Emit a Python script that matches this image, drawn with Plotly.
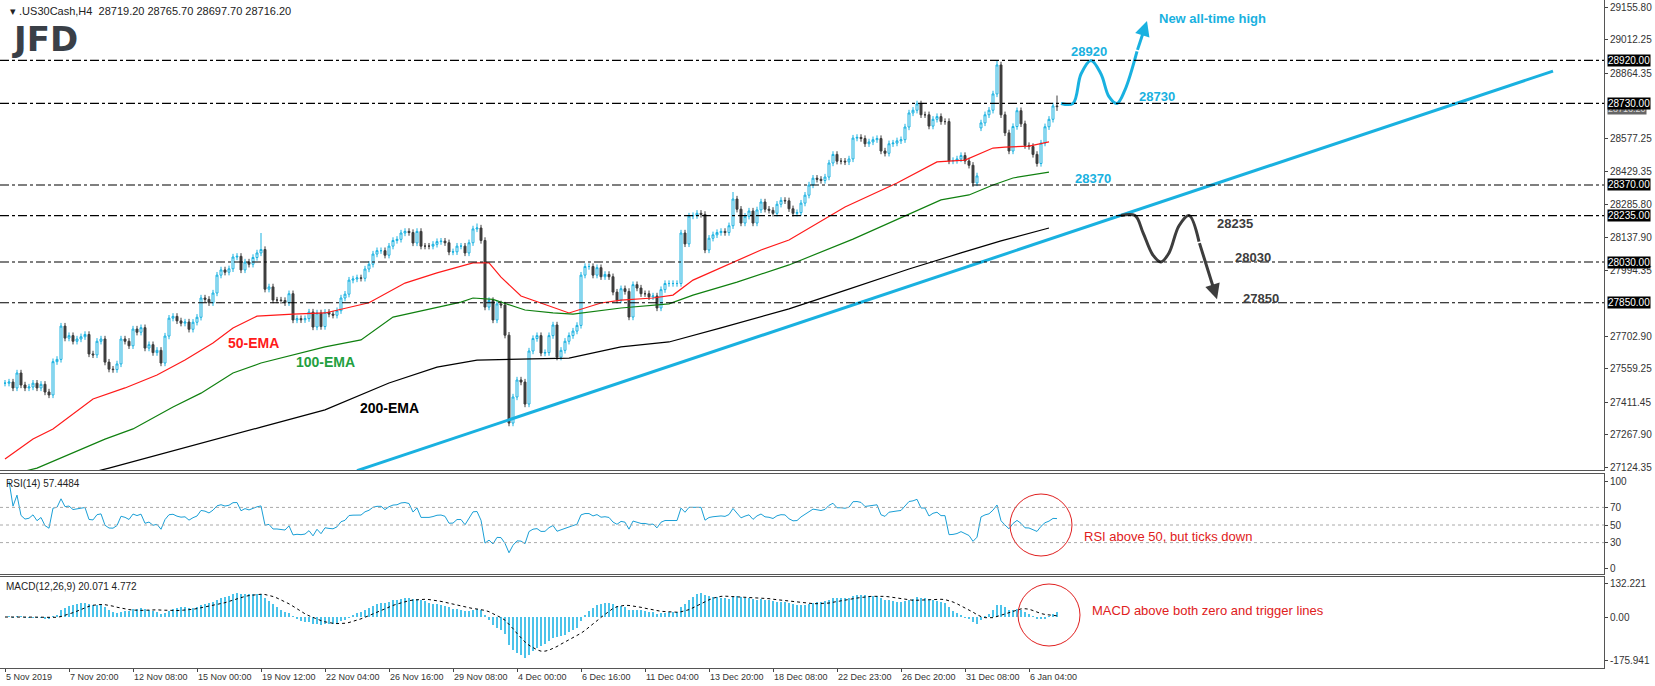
import numpy as np
import pandas as pd
import plotly.graph_objects as go

# ---------------- data ----------------
closes_a = [27495, 27500, 27474, 27540, 27487, 27474, 27478, 27495, 27474, 27490, 27456, 27443,
            27590, 27600, 27747, 27694, 27705, 27680, 27690, 27700, 27710,
            27624, 27620, 27680, 27690, 27588, 27557, 27555, 27580, 27690, 27680, 27660, 27734, 27720,
            27740, 27650, 27665, 27630, 27640, 27584, 27703, 27782, 27790, 27770, 27760, 27765, 27733,
            27764, 27786, 27871, 27865, 27850, 27893, 27972, 27995, 27985, 28000, 28052, 28055, 27995,
            28030, 28020, 28050, 28070, 28085, 27910, 27920, 27862]
closes_b = [27862, 27860, 27850, 27890, 27774, 27780, 27775, 27780, 27809, 27743,
            27805, 27745, 27808, 27800, 27795, 27815, 27871, 27888, 27950, 27955,
            27960, 27958, 27999, 28020, 28065, 28080, 28080, 28060, 28100, 28125,
            28130, 28158, 28165, 28160, 28114, 28165, 28100, 28100, 28100, 28108,
            28120, 28122, 28115, 28074, 28075, 28100, 28100, 28070, 28115, 28176,
            28180, 28125, 27831, 27860, 27774, 27845, 27840, 27707, 27319, 27434,
            27509, 27500, 27403, 27637, 27692]
closes_c = [27705, 27628, 27630, 27705, 27752, 27610, 27640, 27680, 27705, 27725,
            27750, 27972, 28010, 28010, 27972, 28005, 27965, 27975, 27965, 27897,
            27862, 27912, 27900, 27787, 27930, 27915, 27890, 27890, 27876, 27880,
            27827, 27908, 27935, 27935, 27935, 27935, 28158, 28110, 28233, 28235,
            28245, 28240, 28083, 28135, 28150, 28160, 28165, 28160, 28190, 28308,
            28263, 28202, 28232, 28255, 28202, 28260, 28295, 28263, 28258, 28245,
            28285, 28302, 28300, 28265, 28245]
closes_d = [28248, 28290, 28325, 28370, 28400, 28395, 28390, 28405, 28467, 28505,
            28475, 28475, 28472, 28485, 28577, 28580, 28575, 28552, 28560, 28570,
            28575, 28520, 28510, 28552, 28555, 28565, 28570, 28626, 28688, 28700,
            28728, 28680, 28680, 28630, 28660, 28672, 28650, 28650, 28476, 28478,
            28485, 28500, 28476, 28457, 28379, 28410, 28644, 28680, 28700, 28772,
            28900, 28680, 28600, 28520, 28628, 28698, 28640, 28544, 28540, 28505,
            28465, 28555, 28627, 28660, 28719, 28716]
open_overrides = {244: 28622, 263: 28719}
high_overrides = {64: 28158, 118: 28200, 182: 28339, 248: 28920, 263: 28765}
low_overrides = {126: 27305, 242: 28362, 263: 28697}

ema50_bars = [0, 7, 12, 22, 30, 38, 45, 52, 57, 63, 72, 80, 91, 100, 108, 117, 121, 124, 129, 141, 149,
              154, 162, 167, 172, 182, 189, 196, 210, 223, 233, 240, 247, 250, 256, 261]
ema50_vals = [27160, 27249, 27293, 27425, 27474, 27531, 27597, 27672, 27739, 27791, 27800, 27805, 27850,
              27937, 27982, 28026, 28026, 27963, 27880, 27805, 27849, 27862, 27871, 27884, 27950, 28030,
              28083, 28127, 28273, 28379, 28472, 28480, 28533, 28537, 28542, 28560]
ema100_bars = [0, 8, 25, 32, 42, 49, 57, 64, 80, 89, 97, 105, 114, 117, 122, 130, 137, 142, 154, 166,
               172, 183, 196, 212, 227, 234, 241, 247, 252, 261]
ema100_vals = [27085, 27120, 27248, 27293, 27390, 27451, 27540, 27584, 27655, 27686, 27787, 27818, 27853,
               27871, 27865, 27818, 27805, 27800, 27827, 27845, 27884, 27941, 28017, 28131, 28251, 28304,
               28326, 28370, 28401, 28427]
ema200_bars = [10, 26, 64, 80, 96, 108, 118, 129, 141, 154, 166, 179, 196, 210, 226, 239, 249, 261]
ema200_vals = [27050, 27120, 27301, 27377, 27496, 27566, 27597, 27602, 27606, 27655, 27677, 27739, 27823,
               27905, 27999, 28070, 28123, 28180]

trend_bars = [88, 387]
trend_vals = [27109, 28873]

levels = [28920, 28730, 28370, 28235, 28030, 27850]
price_ticks = [29155.80, 29012.25, 28864.35, 28577.25, 28429.35, 28285.80, 28137.90, 27994.35,
               27702.90, 27559.25, 27411.45, 27267.90, 27124.35]
date_labels = ["5 Nov 2019", "7 Nov 20:00", "12 Nov 08:00", "15 Nov 00:00", "19 Nov 12:00",
               "22 Nov 04:00", "26 Nov 16:00", "29 Nov 08:00", "4 Dec 00:00", "6 Dec 16:00",
               "11 Dec 04:00", "13 Dec 20:00", "18 Dec 08:00", "22 Dec 23:00", "26 Dec 20:00",
               "31 Dec 08:00", "6 Jan 04:00"]

# scenario paths (annotation drawings)
up_path_x = [264, 267, 269, 271.5, 274, 276, 278, 280, 283]
up_path_y = [28730, 28730, 28860, 28920, 28860, 28760, 28730, 28790, 28960]
dn_path_x = [279, 282.5, 284.5, 287, 289, 291, 293.5, 296, 298.5]
dn_path_y = [28235, 28235, 28160, 28060, 28030, 28070, 28190, 28235, 28120]

# ---------------- build OHLC ----------------
close = np.array(closes_a + closes_b + closes_c + closes_d, dtype=float)
n = len(close)
x = np.arange(n)
opn = np.concatenate([[close[0]], close[:-1]])
for k, v in open_overrides.items():
    opn[k] = v
pad = 14
high = np.maximum(opn, close) + pad
low = np.minimum(opn, close) - pad
for k, v in high_overrides.items():
    high[k] = v
for k, v in low_overrides.items():
    low[k] = v

s = pd.Series(close)
delta = s.diff()
gain = delta.clip(lower=0).ewm(alpha=1 / 14, adjust=False).mean()
loss = (-delta.clip(upper=0)).ewm(alpha=1 / 14, adjust=False).mean()
rsi = 100 - 100 / (1 + gain / loss)
macd = s.ewm(span=12, adjust=False).mean() - s.ewm(span=26, adjust=False).mean()
signal = macd.rolling(9, min_periods=1).mean()

BLUE = "#19b1e0"
DARK = "#3d3d3d"
FONT = "Liberation Sans"

fig = go.Figure()
fig.add_trace(go.Candlestick(x=x, open=opn, high=high, low=low, close=close,
                             increasing=dict(line=dict(color=BLUE, width=1), fillcolor="white"),
                             decreasing=dict(line=dict(color=DARK, width=1), fillcolor=DARK),
                             whiskerwidth=0, xaxis="x", yaxis="y"))
fig.add_trace(go.Scatter(x=ema50_bars, y=ema50_vals, mode="lines", line=dict(color="#ff1a1a", width=1.2),
                         xaxis="x", yaxis="y"))
fig.add_trace(go.Scatter(x=ema100_bars, y=ema100_vals, mode="lines", line=dict(color="#108010", width=1.2),
                         xaxis="x", yaxis="y"))
fig.add_trace(go.Scatter(x=ema200_bars, y=ema200_vals, mode="lines", line=dict(color="black", width=1.2),
                         xaxis="x", yaxis="y"))
fig.add_trace(go.Scatter(x=trend_bars, y=trend_vals, mode="lines", line=dict(color=BLUE, width=3),
                         xaxis="x", yaxis="y"))
fig.add_trace(go.Scatter(x=up_path_x, y=up_path_y, mode="lines", line=dict(color=BLUE, width=3, shape="spline"),
                         xaxis="x", yaxis="y"))
fig.add_trace(go.Scatter(x=dn_path_x, y=dn_path_y, mode="lines", line=dict(color=DARK, width=3, shape="spline"),
                         xaxis="x", yaxis="y"))
fig.add_trace(go.Scatter(x=x, y=rsi, mode="lines", line=dict(color="#1a9fd6", width=1), xaxis="x2", yaxis="y2"))
fig.add_trace(go.Bar(x=x, y=macd, marker=dict(color="#4cc3ea", line=dict(width=0)), width=0.35,
                     xaxis="x3", yaxis="y3"))
fig.add_trace(go.Scatter(x=x, y=signal, mode="lines", line=dict(color="black", width=1, dash="dot"),
                         xaxis="x3", yaxis="y3"))

XR = [-1.25, 399.75]
H_PLOT = 668.0
def dom(top_px, bot_px):
    return [(H_PLOT - bot_px) / H_PLOT, (H_PLOT - top_px) / H_PLOT]

TF = dict(family=FONT, size=10, color="#333")
axis_common = dict(showgrid=False, zeroline=False, showline=True, linecolor="#555", linewidth=1, mirror=True)
fig.update_layout(
    width=1655, height=686, margin=dict(l=0, r=51, t=0, b=18),
    paper_bgcolor="white", plot_bgcolor="white", showlegend=False, bargap=0,
    xaxis=dict(domain=[0, 1], range=XR, rangeslider=dict(visible=False), showticklabels=False,
               ticks="", **axis_common),
    yaxis=dict(domain=dom(0, 470), range=[27111.7, 29186.7], side="right", tickvals=price_ticks,
               ticktext=[f"{v:.2f}" for v in price_ticks], ticks="outside", ticklen=3, anchor="x",
               tickfont=TF, **axis_common),
    xaxis2=dict(domain=[0, 1], range=XR, matches="x", showticklabels=False, ticks="", anchor="y2",
                **axis_common),
    yaxis2=dict(domain=dom(474, 574), range=[-5.7, 108], side="right", tickvals=[100, 70, 50, 30, 0],
                ticks="outside", ticklen=3, anchor="x2", tickfont=TF, **axis_common),
    xaxis3=dict(domain=[0, 1], range=XR, matches="x", anchor="y3", tickvals=list(range(0, 257, 16)),
                ticktext=date_labels, ticks="outside", ticklen=3, ticklabelposition="outside right",
                tickangle=0, tickfont=dict(family=FONT, size=9, color="#333"), **axis_common),
    yaxis3=dict(domain=dom(577, 668), range=[-204, 160], side="right", tickvals=[132.221, 0, -175.941],
                ticktext=["132.221", "0.00", "-175.941"], ticks="outside", ticklen=3, anchor="x3",
                tickfont=TF, **axis_common),
)

shapes = []
for lv in levels:
    shapes.append(dict(type="line", xref="x domain", yref="y", x0=0, x1=1, y0=lv, y1=lv,
                       line=dict(color="black", width=1.2, dash="dashdot")))
for lv in [70, 50, 30]:
    shapes.append(dict(type="line", xref="x2 domain", yref="y2", x0=0, x1=1, y0=lv, y1=lv,
                       line=dict(color="#aaa", width=1, dash="dot")))
W = 1604.0
def px(xp):
    return xp / W
def py(yp):
    return (H_PLOT - yp) / H_PLOT
for cx, cy, r in [(1041, 525, 31), (1049, 615, 31)]:
    shapes.append(dict(type="circle", xref="paper", yref="paper", x0=px(cx - r), x1=px(cx + r),
                       y0=py(cy + r), y1=py(cy - r), line=dict(color="#e02020", width=1)))
fig.update_layout(shapes=shapes)

ann = []
ann.append(dict(xref="paper", yref="y", x=1.0, y=28706, xanchor="left", yanchor="middle", xshift=3,
                text="28716.20", showarrow=False, bgcolor="#666", font=dict(family=FONT, size=9, color="#ddd"),
                borderpad=0))
for lv in levels:
    ann.append(dict(xref="paper", yref="y", x=1.0, y=lv, xanchor="left", yanchor="middle", xshift=3,
                    text=f"{lv:.2f}", showarrow=False, bgcolor="black",
                    font=dict(family=FONT, size=10, color="white"), borderpad=0))
def lab(xv, yv, t, color, size=13, anchor="center"):
    ann.append(dict(xref="x", yref="y", x=xv, y=yv, text=f"<b>{t}</b>", showarrow=False, xanchor=anchor,
                    font=dict(family=FONT, size=size, color=color)))
lab(271, 28960, "28920", BLUE)
lab(288, 28760, "28730", BLUE)
lab(272, 28400, "28370", BLUE)
lab(288, 29105, "New all-time high", BLUE, anchor="left")
lab(307.5, 28200, "28235", DARK)
lab(312, 28052, "28030", DARK)
lab(314, 27870, "27850", DARK)
lab(62, 27672, "50-EMA", "#ff1a1a", 14)
lab(80, 27590, "100-EMA", "#22a040", 14)
lab(96, 27385, "200-EMA", "black", 14)
# arrow heads
ann.append(dict(xref="x", yref="y", axref="x", ayref="y", x=285.5, y=29094, ax=283, ay=28960, text="",
                showarrow=True, arrowhead=2, arrowsize=1, arrowwidth=3, arrowcolor=BLUE))
ann.append(dict(xref="x", yref="y", axref="x", ayref="y", x=303, y=27866, ax=298.5, ay=28120, text="",
                showarrow=True, arrowhead=2, arrowsize=1, arrowwidth=3, arrowcolor=DARK))
# headers
ann.append(dict(xref="paper", yref="paper", x=px(8), y=py(3), xanchor="left", yanchor="top",
                text="▾ .US30Cash,H4  28719.20 28765.70 28697.70 28716.20", showarrow=False,
                font=dict(family=FONT, size=11, color="#222")))
ann.append(dict(xref="paper", yref="paper", x=px(10), y=py(17), xanchor="left", yanchor="top",
                text="<b>JFD</b>", showarrow=False, font=dict(family="DejaVu Sans", size=34, color="#3a3f47")))
ann.append(dict(xref="paper", yref="paper", x=px(4), y=py(476), xanchor="left", yanchor="top",
                text="RSI(14) 57.4484", showarrow=False, font=dict(family=FONT, size=10, color="#222")))
ann.append(dict(xref="paper", yref="paper", x=px(4), y=py(579), xanchor="left", yanchor="top",
                text="MACD(12,26,9) 20.071 4.772", showarrow=False, font=dict(family=FONT, size=10, color="#222")))
ann.append(dict(xref="paper", yref="paper", x=px(1082), y=py(536), xanchor="left", yanchor="middle",
                text="RSI above 50, but ticks down", showarrow=False, font=dict(family=FONT, size=13, color="#e02020")))
ann.append(dict(xref="paper", yref="paper", x=px(1090), y=py(610), xanchor="left", yanchor="middle",
                text="MACD above both zero and trigger lines", showarrow=False,
                font=dict(family=FONT, size=13, color="#e02020")))
fig.update_layout(annotations=ann)

fig.write_html("out.html", config={"displayModeBar": False},
               post_script="document.body.style.margin='0';document.body.style.overflow='hidden';")
